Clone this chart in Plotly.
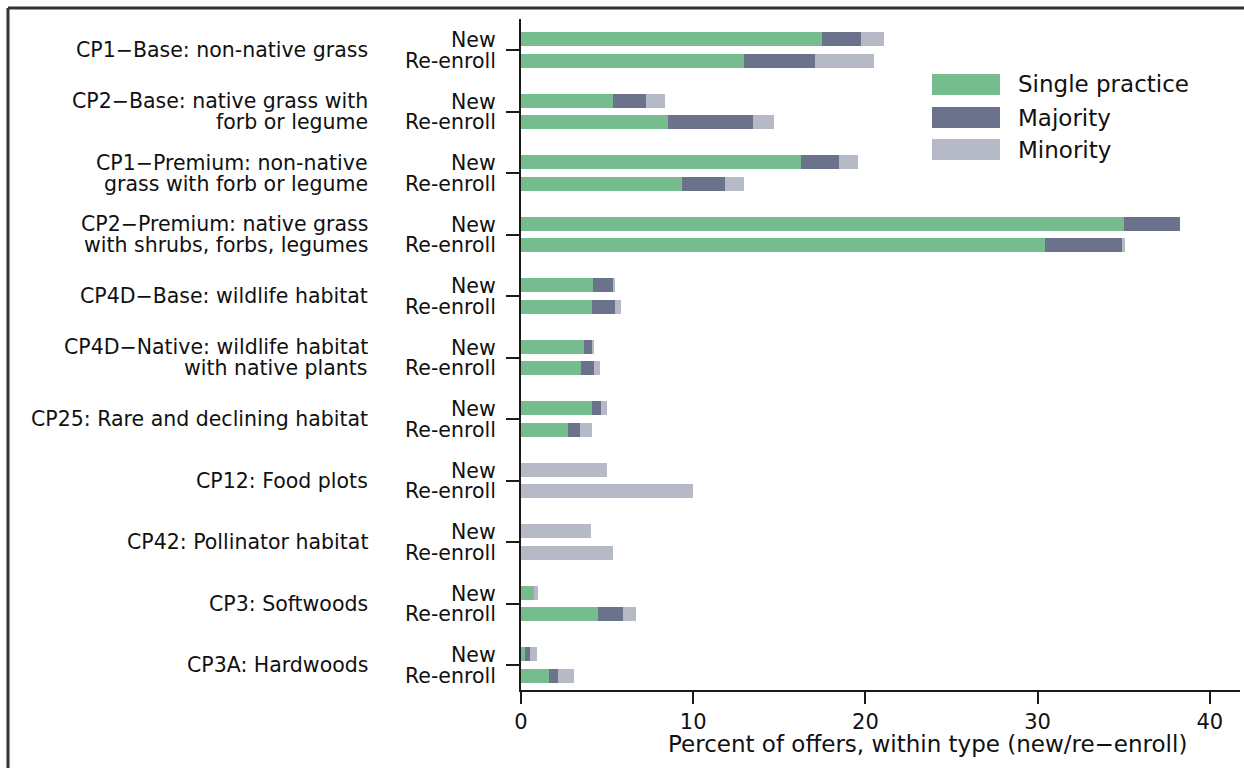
import plotly.graph_objects as go

categories = [
    "CP1\u2212Base: non-native grass",
    "CP2\u2212Base: native grass with\nforb or legume",
    "CP1\u2212Premium: non-native\ngrass with forb or legume",
    "CP2\u2212Premium: native grass\nwith shrubs, forbs, legumes",
    "CP4D\u2212Base: wildlife habitat",
    "CP4D\u2212Native: wildlife habitat\nwith native plants",
    "CP25: Rare and declining habitat",
    "CP12: Food plots",
    "CP42: Pollinator habitat",
    "CP3: Softwoods",
    "CP3A: Hardwoods",
]
series_names = ["Single practice", "Majority", "Minority"]
single_new = [17.5, 5.35, 16.25, 35.0, 4.2, 3.65, 4.1, 0, 0, 0.75, 0.25]
majority_new = [2.25, 1.9, 2.2, 3.25, 1.15, 0.5, 0.55, 0, 0, 0, 0.3]
minority_new = [1.35, 1.1, 1.1, 0, 0.1, 0.1, 0.35, 5.0, 4.05, 0.25, 0.35]
single_re = [12.95, 8.55, 9.35, 30.45, 4.1, 3.5, 2.75, 0, 0, 4.45, 1.65]
majority_re = [4.1, 4.95, 2.5, 4.5, 1.35, 0.75, 0.7, 0, 0, 1.45, 0.5]
minority_re = [3.45, 1.2, 1.1, 0.1, 0.35, 0.35, 0.65, 10.0, 5.35, 0.75, 0.95]
x_ticks = [0, 10, 20, 30, 40]
group_labels = ["New", "Re-enroll"]

colors = ["#77BC8F", "#6A738B", "#B6BAC7"]
FONT = "DejaVu Sans"
TXT = "#111111"
AX = "#1a1a1a"

W, H = 1244, 768
L, R, T, B = 521, 1240, 19, 690  # plot area pixels


def px_x(p):
    return (p - L) / (R - L)


def px_y(p):
    return (B - p) / (B - T)


n = len(categories)
pos = list(range(n))
off = 0.176
y_new = [p - off for p in pos]
y_re = [p + off for p in pos]

fig = go.Figure()
for name, col, vn, vr in zip(series_names, colors,
                              [single_new, majority_new, minority_new],
                              [single_re, majority_re, minority_re]):
    fig.add_trace(go.Bar(
        orientation="h", name=name,
        x=vn + vr, y=y_new + y_re,
        width=0.228, marker=dict(color=col, line=dict(width=0)),
        showlegend=False,
    ))

annotations = []
LBL = 20.5
for i, c in enumerate(categories):
    lines = c.split("\n")
    k = len(lines)
    for j, ln in enumerate(lines):
        shift = ((k - 1) / 2 - j) * 21
        annotations.append(dict(
            x=px_x(370), xref="paper", y=i, yref="y", text=ln,
            xanchor="right", yanchor="middle", yshift=shift, showarrow=False,
            font=dict(family=FONT, size=LBL, color=TXT),
        ))
    for j, g in enumerate(group_labels):
        annotations.append(dict(
            x=px_x(498), xref="paper", y=i, yref="y", text=g,
            xanchor="right", yanchor="middle", yshift=10 if j == 0 else -10.5,
            showarrow=False, font=dict(family=FONT, size=LBL, color=TXT),
        ))

# axis title
annotations.append(dict(
    x=px_x(927), xref="paper", y=px_y(744), yref="paper",
    text="Percent of offers, within type (new/re\u2212enroll)",
    xanchor="center", yanchor="middle", showarrow=False,
    font=dict(family=FONT, size=23, color=TXT),
))

# legend
shapes = []
leg_y = [(74, 95), (107, 128), (139, 160)]
for name, col, (y0, y1) in zip(series_names, colors, leg_y):
    shapes.append(dict(type="rect", xref="paper", yref="paper",
                       x0=px_x(932), x1=px_x(1000), y0=px_y(y1), y1=px_y(y0),
                       fillcolor=col, line=dict(width=0)))
    annotations.append(dict(
        x=px_x(1016), xref="paper", y=px_y((y0 + y1) / 2), yref="paper",
        text=name, xanchor="left", yanchor="middle", showarrow=False,
        font=dict(family=FONT, size=23, color=TXT),
    ))

# frame
shapes.append(dict(type="line", xref="paper", yref="paper",
                   x0=px_x(8), x1=px_x(W + 10), y0=px_y(8), y1=px_y(8),
                   line=dict(color="#333333", width=3)))
shapes.append(dict(type="line", xref="paper", yref="paper",
                   x0=px_x(8), x1=px_x(8), y0=px_y(8), y1=px_y(H + 10),
                   line=dict(color="#333333", width=3)))

ppu = 61.5
fig.update_layout(
    width=W, height=H,
    margin=dict(l=L, r=W - R, t=T, b=H - B, pad=0),
    plot_bgcolor="white", paper_bgcolor="white",
    barmode="stack", bargap=0,
    font=dict(family=FONT, color=TXT),
    xaxis=dict(range=[0, (R - L) / 17.22], tickvals=x_ticks,
               showgrid=False, zeroline=False, showline=True,
               linecolor=AX, linewidth=2,
               ticks="outside", ticklen=12, tickwidth=2, tickcolor=AX,
               tickfont=dict(family=FONT, size=21, color=TXT)),
    yaxis=dict(range=[(B - 50) / ppu, -(50 - T) / ppu], tickvals=pos,
               ticktext=[""] * n, showgrid=False, zeroline=False,
               showline=True, linecolor=AX, linewidth=2,
               ticks="outside", ticklen=13, tickwidth=2, tickcolor=AX),
    annotations=annotations, shapes=shapes,
)

fig.write_html(
    "out.html",
    config={"displayModeBar": False},
    post_script="document.body.style.margin='0';document.body.style.overflow='hidden';",
)
